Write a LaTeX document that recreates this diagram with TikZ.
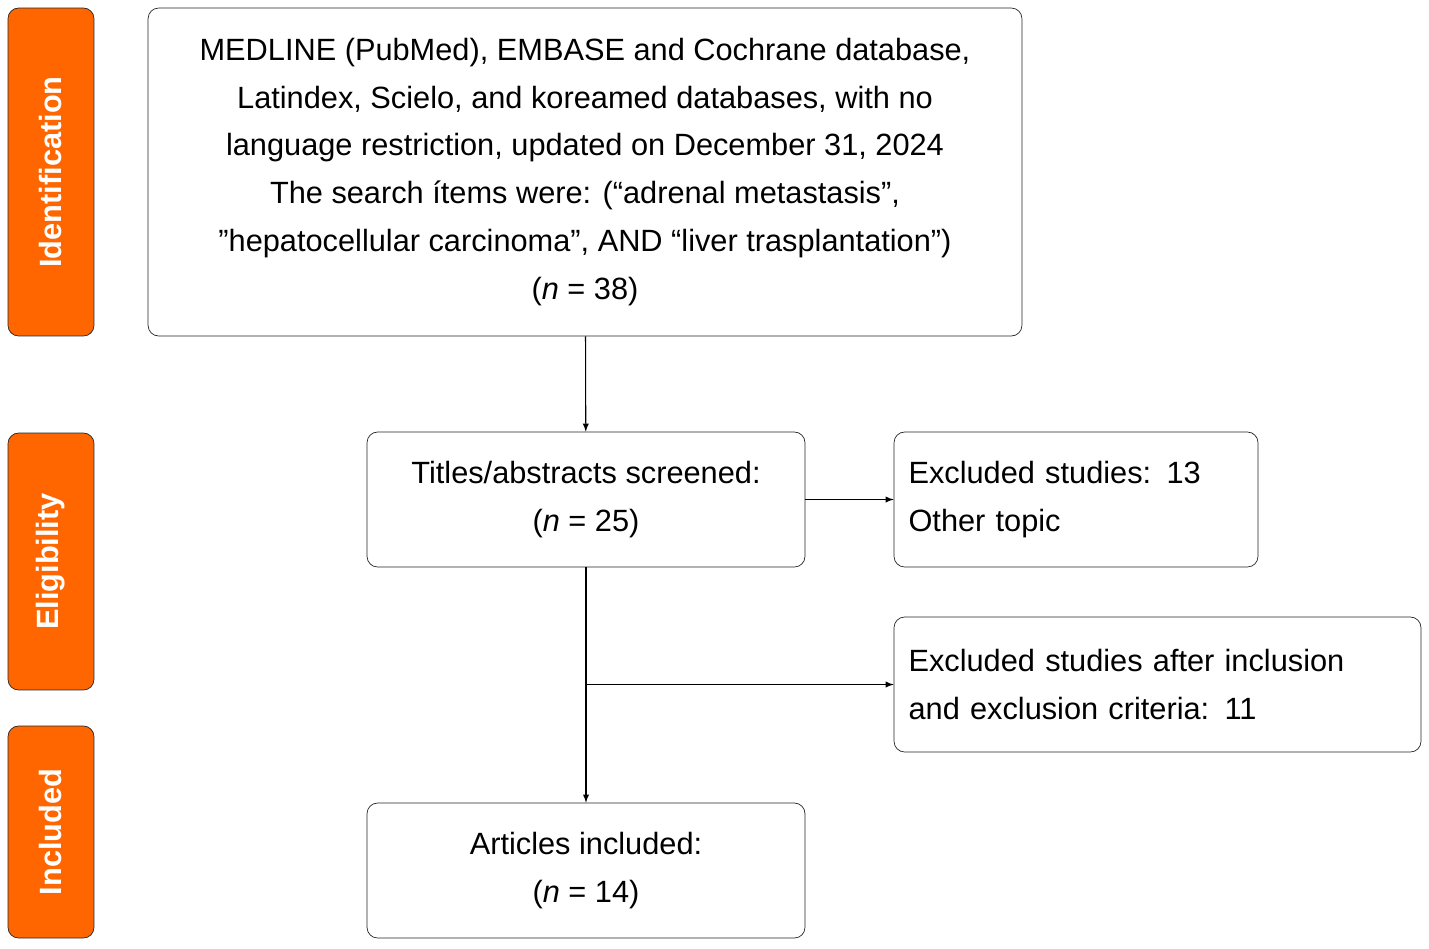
\documentclass[tikz,border=0pt]{standalone}
\usepackage{fontspec}
\setmainfont{Liberation Sans}
\usetikzlibrary{positioning}
\definecolor{stageorange}{HTML}{FF6600}
\begin{document}
\begin{tikzpicture}[
			x=0.02cm, y=-0.02cm,
			nodes = {
				align = center
			},
			box/.style={
				draw=black!85,
				rounded corners=6pt,
				inner sep=0pt,
				font=\fontsize{17.5}{27.3}\selectfont
			},
			stage/.style={
				draw=black!85,
				fill=stageorange,
				rounded corners=6pt,
				minimum height=1.72cm,
				inner sep=0pt,
				rotate=90,
				text=white,
				font=\fontsize{17.5}{20}\selectfont\bfseries
			},
			lines/.style={
				line width=0.6pt,
				>=latex
			}
		]
			\useasboundingbox (0,0) rectangle (1429,948);

			\node[box, minimum width=17.48cm, minimum height=6.56cm] (search) at (585,172) {MEDLINE (PubMed), EMBASE and Cochrane database,\\Latindex, Scielo, and koreamed databases, with no\\language restriction, updated on December 31, 2024\\The search ítems were: (“adrenal metastasis”,\\”hepatocellular carcinoma”, AND “liver trasplantation”)\\(\textit{n} = 38)};
			\node[box, minimum width=8.76cm, minimum height=2.7cm] (screen) at (586,499.5) {Titles/abstracts screened:\\(\textit{n} = 25)};
			\node[box, minimum width=7.28cm, minimum height=2.7cm, align=left, text width=6.7cm] (excl1) at (1076,499.5) {Excluded studies: 13\\Other topic};
			\node[box, minimum width=10.54cm, minimum height=2.7cm, align=left, text width=9.96cm] (excl2) at (1157.5,684.5) {Excluded studies after inclusion\\and exclusion criteria: 11};
			\node[box, minimum width=8.76cm, minimum height=2.7cm] (incl) at (586,870.5) {Articles included:\\(\textit{n} = 14)};

			\node[stage, minimum width=6.56cm] (ident) at (51,172) {Identification};
			\node[stage, minimum width=5.14cm] (elig) at (51,561.5) {Eligibility};
			\node[stage, minimum width=4.24cm] (inc) at (51,832) {Included};

			\coordinate (branch) at (screen.south |- excl2.west);

			\draw[lines,->] (search) -- (screen);
			\draw[lines,->] (screen) -- (excl1);
			\draw[lines,->] (screen) -- (incl);
			\draw[lines,->] (branch) -- (excl2);
		\end{tikzpicture}
\end{document}
